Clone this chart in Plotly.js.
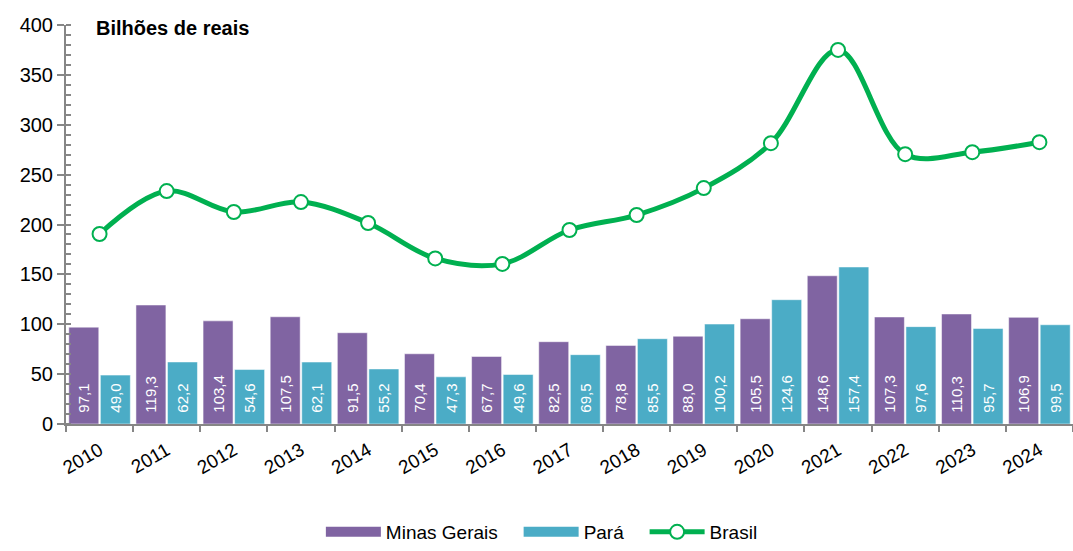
<!DOCTYPE html>
<html>
<head>
<meta charset="utf-8">
<script src="https://cdn.plot.ly/plotly-3.0.1.min.js"></script>
<style>html,body{margin:0;padding:0;background:#fff;}#chart{width:1073px;height:551px;}</style>
</head>
<body>
<div id="chart"></div>
<script>
const years = ['2010','2011','2012','2013','2014','2015','2016','2017','2018','2019','2020','2021','2022','2023','2024'];
const minasGerais = [97.1,119.3,103.4,107.5,91.5,70.4,67.7,82.5,78.8,88.0,105.5,148.6,107.3,110.3,106.9];
const para = [49.0,62.2,54.6,62.1,55.2,47.3,49.6,69.5,85.5,100.2,124.6,157.4,97.6,95.7,99.5];
const brasil = [190.5,233.5,212.5,222.5,201.5,166,160.5,194.5,209.5,236.5,281.5,375,270.5,272.5,282.5];

const font = 'Liberation Sans, Arial, sans-serif';
const pad = '\u00a0\u00a0';
const gap = '\u00a0\u00a0\u00a0';
const purple = '#8064A2', teal = '#4BACC6', green = '#00B050';

const traces = [
  {type:'bar', name:'Minas Gerais', x:years, y:minasGerais, showlegend:false,
   marker:{color:purple, line:{color:'rgba(255,255,255,0.5)', width:1}},
   texttemplate: pad + '%{y:.1f}', textposition:'inside', insidetextanchor:'start', textangle:-90,
   textfont:{color:'#ffffff', size:15, family:font}, hoverinfo:'skip'},
  {type:'bar', name:'Pará', x:years, y:para, showlegend:false,
   marker:{color:teal, line:{color:'rgba(255,255,255,0.5)', width:1}},
   texttemplate: pad + '%{y:.1f}', textposition:'inside', insidetextanchor:'start', textangle:-90,
   textfont:{color:'#ffffff', size:15, family:font}, hoverinfo:'skip'},
  {type:'scatter', mode:'lines+markers', name:'Brasil', x:years, y:brasil, showlegend:false,
   line:{color:green, width:5, shape:'spline', smoothing:1},
   marker:{symbol:'circle', size:14, color:'#ffffff', line:{color:green, width:2}},
   hoverinfo:'skip', cliponaxis:false},
  // legend entries
  {type:'scatter', mode:'lines', name:'Minas Gerais' + gap, x:[null], y:[null], line:{color:purple, width:12}, hoverinfo:'skip'},
  {type:'scatter', mode:'lines', name:'Pará' + gap, x:[null], y:[null], line:{color:teal, width:12}, hoverinfo:'skip'},
  {type:'scatter', mode:'lines+markers', name:'Brasil', x:[null], y:[null],
   line:{color:green, width:5}, marker:{symbol:'circle', size:14, color:'#ffffff', line:{color:green, width:2}}, hoverinfo:'skip'}
];

const layout = {
  width:1073, height:551,
  margin:{l:66, r:0, t:25, b:127},
  paper_bgcolor:'#ffffff', plot_bgcolor:'#ffffff',
  separators:',.',
  font:{family:font, color:'#000000'},
  barmode:'group', bargap:0.06, bargroupgap:0.05,
  showlegend:true,
  legend:{orientation:'h', xref:'container', yref:'container', x:0.505, xanchor:'center', y:-0.02, yanchor:'bottom',
          font:{size:19, family:font}, traceorder:'normal', itemwidth:55, tracegroupgap:0},
  xaxis:{type:'category', range:[-0.5,14.5], showgrid:false, zeroline:false,
         showline:true, linecolor:'#868686', linewidth:2,
         ticks:'outside', tickson:'boundaries', ticklen:6, tickcolor:'#868686', tickwidth:2,
         tickangle:-30, ticklabelstandoff:6, tickfont:{size:19, family:font, color:'#000'}},
  yaxis:{range:[0,400], dtick:50, tick0:0, showgrid:false, zeroline:false,
         showline:true, linecolor:'#868686', linewidth:2,
         ticks:'outside', ticklen:7, tickcolor:'#868686', tickwidth:2,
         tickfont:{size:20, family:font, color:'#000'},
         minor:{dtick:10, ticks:'inside', ticklen:5, tickcolor:'#868686', tickwidth:2, showgrid:false}},
  annotations:[{text:'<b>Bilhões de reais</b>', xref:'paper', yref:'paper', x:0.028, y:0.993,
                xanchor:'left', yanchor:'middle', showarrow:false, font:{size:20, family:font, color:'#000'}}]
};

Plotly.newPlot('chart', traces, layout, {staticPlot:true, displayModeBar:false});
</script>
</body>
</html>
